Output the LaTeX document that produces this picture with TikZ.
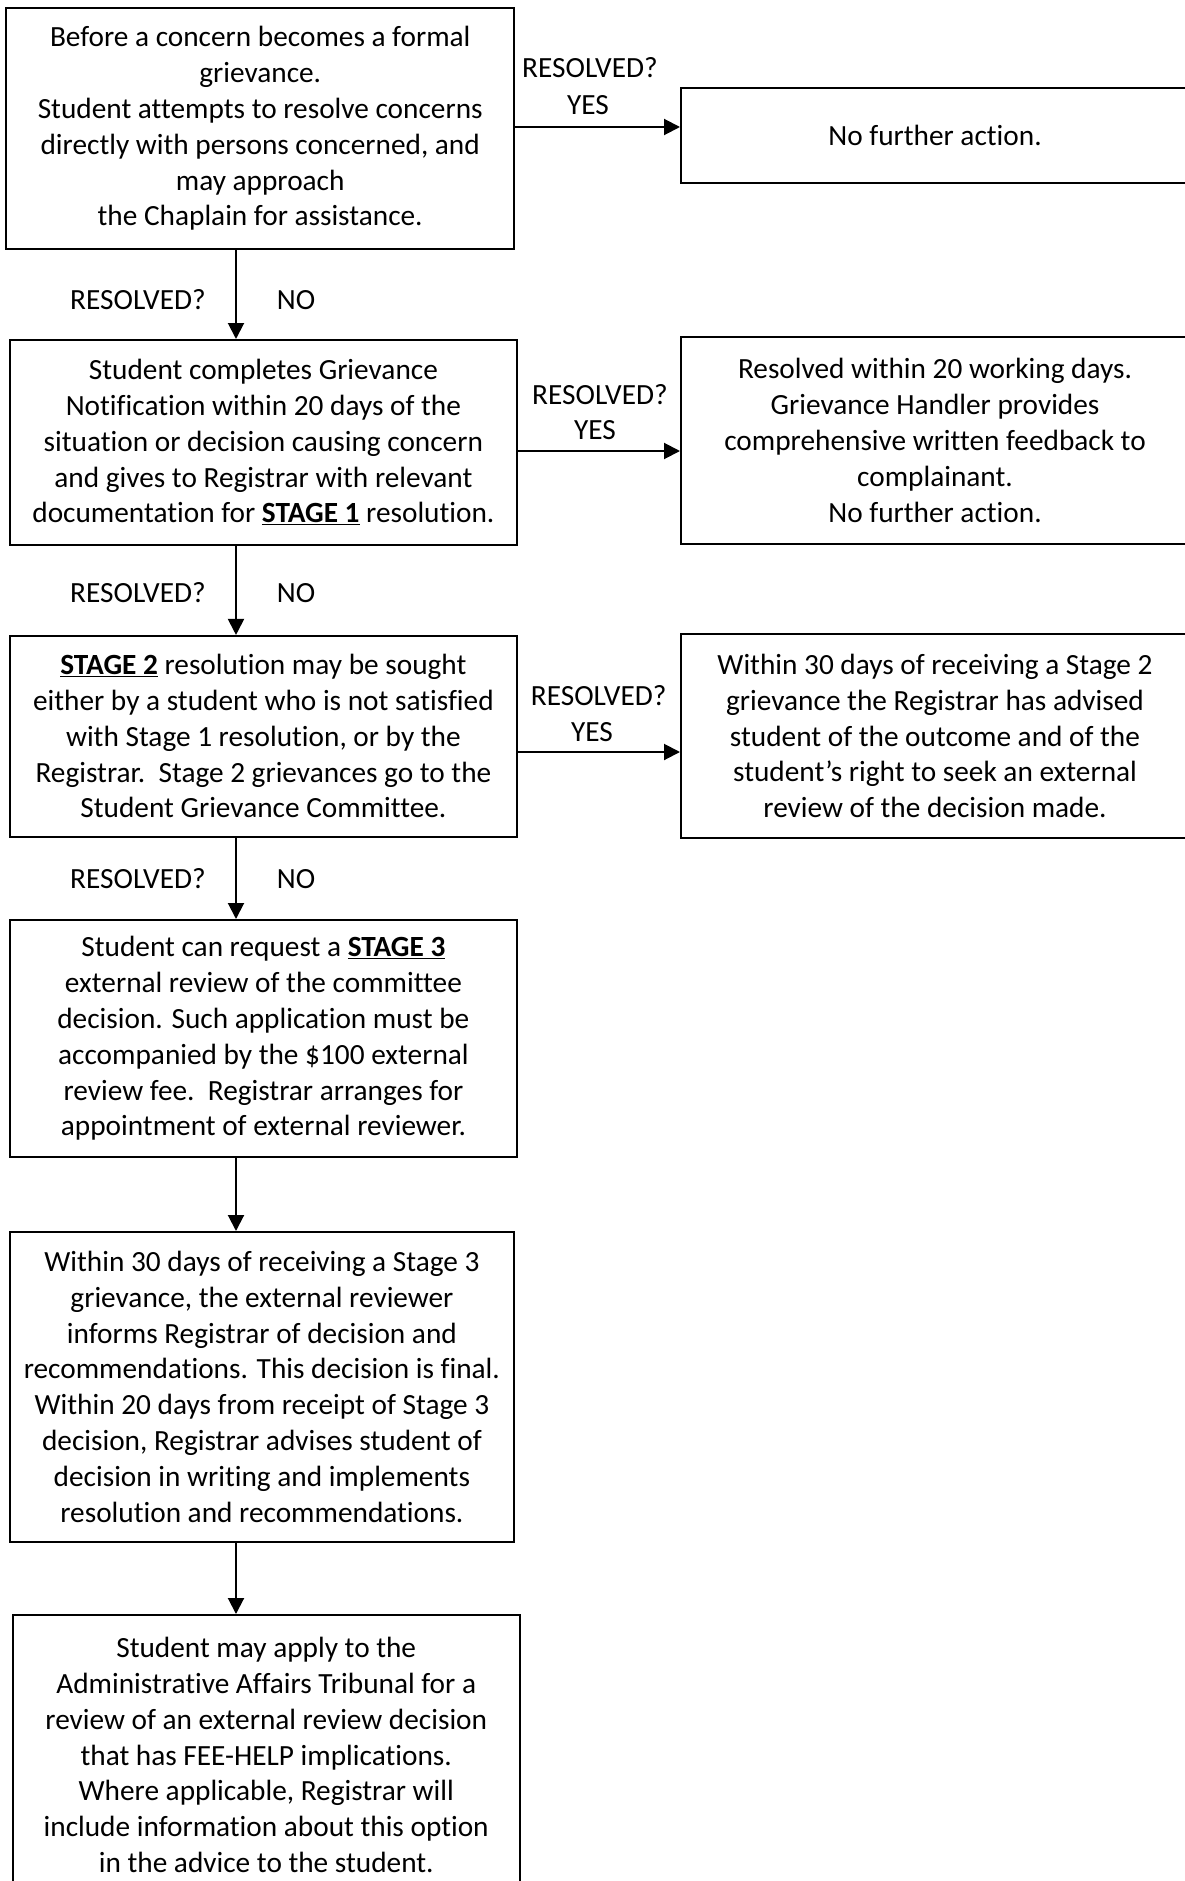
\documentclass[tikz,border=0pt]{standalone}
\usepackage{fontspec}
\setmainfont{Carlito}[Ligatures=NoCommon]
\usetikzlibrary{arrows.meta}
\begin{document}
\begin{tikzpicture}[x=1pt,y=-1pt,
  box/.style={draw, line width=2pt, inner sep=0pt, align=center, font=\fontsize{29.3}{35.8}\selectfont},
  lbl/.style={inner sep=0pt, font=\fontsize{29.3}{35.8}\selectfont},
  arr/.style={line width=2pt, -{Triangle[length=16pt,width=16pt]}}]
\useasboundingbox (0,0) rectangle (1185,1881);
\clip (0,0) rectangle (1185,1881);
\fill[white] (0,0) rectangle (1185,1881);
% left column
\node[box, minimum width=507.7pt, minimum height=241pt] (b1) at (260.2,128.5)
  {Before a concern becomes a formal\\grievance.\\Student attempts to resolve concerns\\directly with persons concerned, and\\may approach\\the Chaplain for assistance.};
\node[box, minimum width=507.2pt, minimum height=204.6pt] (b2) at (263.4,442.3)
  {Student completes Grievance\\Notification within 20 days of the\\situation or decision causing concern\\and gives to Registrar with relevant\\documentation for \underline{\textbf{STAGE 1}} resolution.};
\node[box, minimum width=507.2pt, minimum height=200.7pt] (b3) at (263.4,736.3)
  {\underline{\textbf{STAGE 2}} resolution may be sought\\either by a student who is not satisfied\\with Stage 1 resolution, or by the\\Registrar.\ \ Stage 2 grievances go to the\\Student Grievance Committee.};
\node[box, minimum width=507.2pt, minimum height=237pt] (b4) at (263.4,1038.5)
  {Student can request a \underline{\textbf{STAGE 3}}\\external review of the committee\\decision. Such application must be\\accompanied by the \$100 external\\review fee.\ \ Registrar arranges for\\appointment of external reviewer.};
\node[box, minimum width=504.2pt, minimum height=309.6pt] (b5) at (261.9,1386.8)
  {Within 30 days of receiving a Stage 3\\grievance, the external reviewer\\informs Registrar of decision and\\recommendations. This decision is final.\\Within 20 days from receipt of Stage 3\\decision, Registrar advises student of\\decision in writing and implements\\resolution and recommendations.};
\node[box, minimum width=507.5pt, minimum height=280pt] (b6) at (266.25,1755)
  {Student may apply to the\\Administrative Affairs Tribunal for a\\review of an external review decision\\that has FEE-HELP implications.\\Where applicable, Registrar will\\include information about this option\\in the advice to the student.};
% right column
\node[box, minimum width=508pt, minimum height=95.5pt] (r1) at (935,135.75)
  {No further action.};
\node[box, minimum width=508pt, minimum height=207pt] (r2) at (935,440.5)
  {Resolved within 20 working days.\\Grievance Handler provides\\comprehensive written feedback to\\complainant.\\No further action.};
\node[box, minimum width=508pt, minimum height=204pt] (r3) at (935,736)
  {Within 30 days of receiving a Stage 2\\grievance the Registrar has advised\\student of the outcome and of the\\student’s right to seek an external\\review of the decision made.};
% connectors
\coordinate (ax) at (236,0);
\coordinate (ay1) at (0,127);
\coordinate (ay2) at (0,451);
\coordinate (ay3) at (0,752);
\draw[arr] (b1.south -| ax) -- (b2.north -| ax);
\draw[arr] (b2.south -| ax) -- (b3.north -| ax);
\draw[arr] (b3.south -| ax) -- (b4.north -| ax);
\draw[arr] (b4.south -| ax) -- (b5.north -| ax);
\draw[arr] (b5.south -| ax) -- (b6.north -| ax);
\draw[arr] (b1.east |- ay1) -- (r1.west |- ay1);
\draw[arr] (b2.east |- ay2) -- (r2.west |- ay2);
\draw[arr] (b3.east |- ay3) -- (r3.west |- ay3);
% labels
\node[lbl] (l1a) at (590,68) {RESOLVED?};
\node[lbl] (l1b) at (588,105) {YES};
\node[lbl] (l2a) at (600,394.6) {RESOLVED?};
\node[lbl] (l2b) at (595,429.6) {YES};
\node[lbl] (l3a) at (598.7,696) {RESOLVED?};
\node[lbl] (l3b) at (592,732) {YES};
\node[lbl] (d1a) at (138,300) {RESOLVED?};
\node[lbl] (d1b) at (296,300) {NO};
\node[lbl] (d2a) at (138,593) {RESOLVED?};
\node[lbl] (d2b) at (296,593) {NO};
\node[lbl] (d3a) at (138,879) {RESOLVED?};
\node[lbl] (d3b) at (296,879) {NO};
\end{tikzpicture}
\end{document}
